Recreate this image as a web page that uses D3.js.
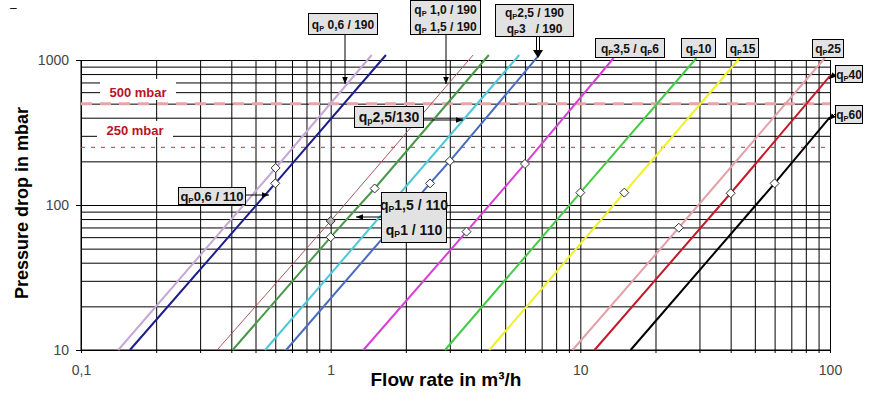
<!DOCTYPE html>
<html><head><meta charset="utf-8">
<script src="https://cdn.jsdelivr.net/npm/d3@7"></script>
<style>body{margin:0;background:#fff;} svg{display:block;}</style>
</head><body><svg id="c" width="875" height="402"></svg>
<script>
// ---- data ----
const xTickValues = [0.1, 1, 10, 100];
const xTickLabels = ["0,1", "1", "10", "100"];
const yTickValues = [10, 100, 1000];
const yTickLabels = ["10", "100", "1000"];
const xTitle = "Flow rate in m³/h";
const yTitle = "Pressure drop in mbar";

const seriesNames = ["qp0,6/190","qp0,6/110","qp1,0/190","qp1,5/190","qp2,5/130","qp2,5/190 qp3/190",
  "qp3,5/qp6","qp10","qp15","qp25","qp40","qp60"];
const seriesColors = ["#c6a8d6","#1c1c8e","#a85a5a","#4a984a","#4cc8d8","#4a6cc0",
  "#d640d6","#44cc44","#f0f028","#e4a0a8","#c41a2a","#000000"];
const seriesWidths = [2,2,1,2,2,2,2,2,2,2,2,2];
// [flow m3/h, pressure mbar]
const s_qp06_190 = [[0.141,10],[0.602,180],[1.46,1083]];
const s_qp06_110 = [[0.157,10],[0.60,141],[1.665,1083]];
const s_qp10_190 = [[0.351,10],[1.0,77.6],[3.72,1083]];
const s_qp15_190 = [[0.405,10],[1.0,60],[1.5,130],[4.30,1083]];
const s_qp25_130 = [[0.546,10],[5.69,1083]];
const s_qp25_190 = [[0.663,10],[2.5,141],[3.0,201],[6.84,1083]];
const s_qp35_6   = [[1.352,10],[3.5,65.5],[6.0,192],[13.6,1032]];
const s_qp10     = [[2.87,10],[10,121.7],[29.2,1032]];
const s_qp15     = [[4.32,10],[15,121.7],[43.5,1032]];
const s_qp25     = [[9.31,10],[24.8,69.7],[95.4,1032]];
const s_qp40     = [[11.4,10],[40,120.5],[100,776]];
const s_qp60     = [[15.9,10],[60,141],[100,404]];
const seriesData = [s_qp06_190,s_qp06_110,s_qp10_190,s_qp15_190,s_qp25_130,s_qp25_190,
  s_qp35_6,s_qp10,s_qp15,s_qp25,s_qp40,s_qp60];
// diamond markers [flow, pressure, grey?]
const markers = [[0.602,180,0],[0.60,141,0],[1.0,77.6,1],[1.0,60,0],[1.5,130,0],[2.5,141,0],[3.0,201,0],
  [3.5,65.5,0],[6.0,192,0],[10,121.7,0],[15,121.7,0],[24.8,69.7,0],[40,120.5,0],[60,141,0]];
const refValues = [500, 250];
const refLabels = ["500 mbar", "250 mbar"];
const noteTexts = [
  ["q_P 0,6 / 190"], ["q_P 1,0 / 190","q_P 1,5 / 190"], ["q_P2,5 / 190","q_P3   / 190"],
  ["q_p2,5/130"], ["q_P3,5 / q_P6"], ["q_P10"], ["q_P15"], ["q_P25"], ["q_P40"], ["q_P60"],
  ["q_P0,6 / 110"], ["q_P1,5 / 110","q_P1 / 110"]
];

// ---- layout ----
const svg = d3.select("#c");
const L = 81, R = 830, T = 60, B = 350;
const x = d3.scaleLog().domain([0.1,100]).range([L,R]);
const y = d3.scaleLog().domain([10,1000]).range([B,T]);
const FONT = "'Liberation Sans', Arial, sans-serif";

svg.append("text").attr("x",10).attr("y",12).attr("font-family",FONT).attr("font-size",12).text("–");

// grid (vertical)
const gx = svg.append("g").attr("transform",`translate(0,${B+3})`)
  .call(d3.axisTop(x).tickValues(x.ticks()).tickSize(B+3-T).tickSizeOuter(0).tickFormat(""));
gx.select(".domain").remove();
gx.selectAll("line").attr("stroke","#000").attr("stroke-width",1);
// grid (horizontal)
const gy = svg.append("g").attr("transform",`translate(${L},0)`)
  .call(d3.axisRight(y).tickValues(y.ticks()).tickSize(R-L).tickSizeOuter(0).tickFormat(""));
gy.select(".domain").remove();
gy.selectAll("line").attr("stroke","#000");
const gy2 = svg.append("g").attr("transform",`translate(${L-5},0)`)
  .call(d3.axisRight(y).tickValues(yTickValues).tickSize(R-L+5).tickSizeOuter(0).tickFormat(""));
gy2.select(".domain").remove();
gy2.selectAll("line").attr("stroke","#000");
svg.append("line").attr("x1",L).attr("x2",L).attr("y1",T).attr("y2",B).attr("stroke","#000");
svg.append("line").attr("x1",L).attr("x2",R).attr("y1",B).attr("y2",B).attr("stroke","#000");

// tick labels
const ax = svg.append("g").attr("transform",`translate(0,${B})`)
  .call(d3.axisBottom(x).tickValues(xTickValues).tickSize(0).tickPadding(15).tickFormat((d,i)=>xTickLabels[i]));
ax.select(".domain").remove();
ax.selectAll("text").attr("font-family",FONT).attr("font-size",14).attr("fill","#444");
const ay = svg.append("g").attr("transform",`translate(${L},0)`)
  .call(d3.axisLeft(y).tickValues(yTickValues).tickSize(0).tickPadding(12).tickFormat((d,i)=>yTickLabels[i]));
ay.select(".domain").remove();
ay.selectAll("text").attr("font-family",FONT).attr("font-size",14).attr("fill","#444");

// titles
svg.append("text").attr("x",446).attr("y",386).attr("text-anchor","middle")
  .attr("font-family",FONT).attr("font-weight","bold").attr("font-size",19).text(xTitle);
svg.append("text").attr("transform","translate(28,203) rotate(-90)").attr("text-anchor","middle")
  .attr("font-family",FONT).attr("font-weight","bold").attr("font-size",18).text(yTitle);

// reference lines
svg.append("line").attr("x1",L).attr("x2",R).attr("y1",y(refValues[0])).attr("y2",y(refValues[0]))
  .attr("stroke","#e8a4a8").attr("stroke-width",3).attr("stroke-dasharray","11,8");
svg.append("line").attr("x1",L).attr("x2",R).attr("y1",y(refValues[1])).attr("y2",y(refValues[1]))
  .attr("stroke","#c83040").attr("stroke-width",1).attr("stroke-dasharray","4,6");
const refBoxes = [[100,79,76,21,92],[97,121,76,16,130]];
refLabels.forEach((t,i)=>{
  const b = refBoxes[i];
  svg.append("rect").attr("x",b[0]).attr("y",b[1]).attr("width",b[2]).attr("height",b[3]).attr("fill","#fff");
  svg.append("text").attr("x",b[0]+b[2]/2).attr("y",b[4]).attr("dy","0.35em").attr("text-anchor","middle")
    .attr("font-family",FONT).attr("font-weight","bold").attr("font-size",13).attr("fill","#b81428").text(t);
});

// curves
const line = d3.line().x(d=>x(d[0])).y(d=>y(d[1]));
seriesData.forEach((s,i)=>{
  svg.append("path").attr("d",line(s)).attr("fill","none").attr("stroke",seriesColors[i])
    .attr("stroke-width",seriesWidths[i]);
});
svg.selectAll(".mk").data(markers).enter().append("path")
  .attr("transform",d=>`translate(${x(d[0])},${y(d[1])})`)
  .attr("d","M0,-4.5L4.5,0L0,4.5L-4.5,0Z")
  .attr("fill",d=>d[2]?"#b0b0b0":"#fff").attr("stroke","#333").attr("stroke-width",1);

// annotation boxes
svg.append("defs").append("marker").attr("id","ah").attr("viewBox","0 0 10 10").attr("refX",10).attr("refY",5)
  .attr("markerWidth",7).attr("markerHeight",7).attr("orient","auto")
  .append("path").attr("d","M0,1L10,5L0,9Z").attr("fill","#000");
const boxes = [
  [308,13,69,21,12],[410,0,70,34,12],[495,4,78,32,12],[354,106,69,21,14],[595,38,69,19,12],
  [681,38,34,19,12],[726,38,32,19,12],[812,39,31,18,12],[835,65,27,17,12],[835,105,27,18,12],
  [178,187,67,17,13],[381,192,65,50,14]
];
const leaders = [
  [[345,34],[345,84]],[[446,34],[446,84]],null,[[423,120],[463,120]],null,null,null,null,
  [[835,74],[829,79]],[[835,114],[829,120]],[[245,195],[269,195]],[[381,217],[356,217]]
];
function addRich(sel, str, fs){
  const parts = str.split(/(_.)/).filter(p=>p);
  let pend = 0;
  parts.forEach(p=>{
    if(p[0]==="_"){
      sel.append("tspan").attr("font-size",fs*0.62).attr("dy",fs*0.2+pend).text(p[1]);
      pend = -fs*0.2;
    } else {
      sel.append("tspan").attr("dy",pend).text(p.replace(/ /g,"\u00a0"));
      pend = 0;
    }
  });
}
noteTexts.forEach((lines,i)=>{
  const b = boxes[i];
  svg.append("rect").attr("x",b[0]+0.5).attr("y",b[1]+0.5).attr("width",b[2]).attr("height",b[3])
    .attr("fill","#e2e2e2").attr("stroke","#000");
  const n = lines.length, lh = b[3]/n;
  lines.forEach((t,j)=>{
    const tx = svg.append("text").attr("x",b[0]+b[2]/2+0.5).attr("y",b[1]+lh*(j+0.5)+5)
      .attr("text-anchor","middle").attr("font-family",FONT)
      .attr("font-weight","bold").attr("font-size",b[4]).attr("fill","#111");
    addRich(tx,t,b[4]);
  });
  if(leaders[i]) svg.append("line").attr("x1",leaders[i][0][0]).attr("y1",leaders[i][0][1])
    .attr("x2",leaders[i][1][0]).attr("y2",leaders[i][1][1]).attr("stroke","#000").attr("marker-end","url(#ah)");
});
[536.5,539.5].forEach(xx=>svg.append("line").attr("x1",xx).attr("x2",xx).attr("y1",36).attr("y2",52).attr("stroke","#000"));
svg.append("path").attr("d","M533,50L543,50L538,58Z").attr("fill","#000");
</script></body></html>
